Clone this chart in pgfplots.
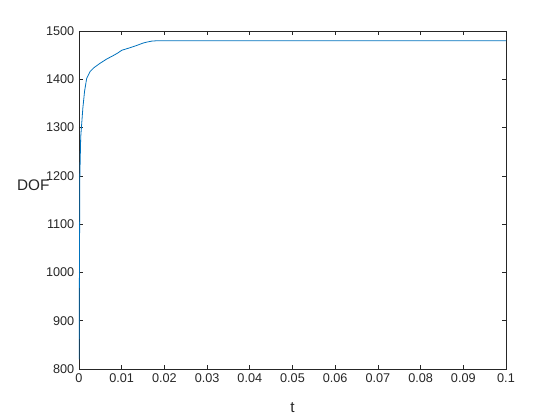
\documentclass[border=0pt]{standalone}
\usepackage{fontspec}
\setmainfont{Liberation Sans}
\usepackage{pgfplots}
\pgfplotsset{compat=1.18}
\definecolor{mblue}{HTML}{0072BD}
\definecolor{mgray}{HTML}{262626}
\begin{document}
\begin{tikzpicture}
\begin{axis}[
  scale only axis,
  width=320.25pt, height=253.5pt,
  xmin=0, xmax=0.1, ymin=800, ymax=1500,
  xtick={0,0.01,...,0.1},
  ytick={800,900,...,1500},
  xticklabels={0,0.01,0.02,0.03,0.04,0.05,0.06,0.07,0.08,0.09,0.1},
  scaled x ticks=false,
  /pgf/number format/1000 sep={},
  /pgf/number format/assume math mode=true,
  tick label style={font=\fontsize{9.5}{11}\selectfont, text=mgray},
  axis line style={mgray, line width=0.5pt},
  tick style={mgray, line width=0.5pt},
  major tick length=3pt,
  tick align=inside,
  xtick pos=both, ytick pos=both,
  xlabel={t}, ylabel={DOF},
  label style={font=\fontsize{11.5}{13}\selectfont, text=mgray},
  xlabel style={at={(axis description cs:0.5,-0.115)}, anchor=center},
  ylabel style={at={(axis description cs:-0.107,0.545)}, anchor=center, rotate=-90},
  clip=true,
]
\addplot[mblue, line width=0.6pt] coordinates {
(0,820) (0.0001,1000) (0.0002,1200) (0.0004,1280) (0.0009,1340)
(0.0013,1375) (0.0018,1402) (0.0026,1416) (0.0035,1424) (0.0049,1433)
(0.0065,1442) (0.0080,1449) (0.0090,1454) (0.0100,1460) (0.0118,1465)
(0.0135,1470) (0.0150,1475) (0.0159,1477) (0.0170,1479) (0.0185,1480)
(0.0200,1480) (0.1,1480)
};
\end{axis}
\useasboundingbox (-59.25pt,-38.25pt) rectangle (360.75pt,276.75pt);
\end{tikzpicture}
\end{document}
